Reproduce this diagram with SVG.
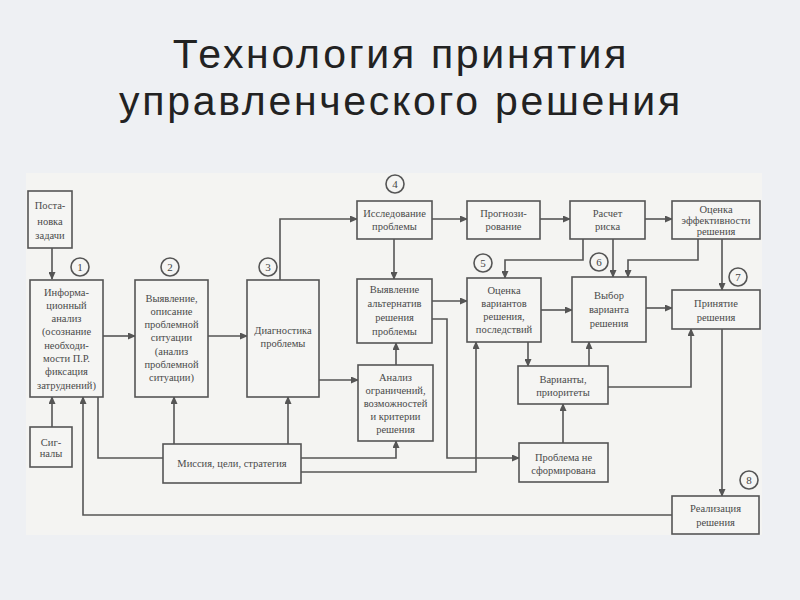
<svg xmlns="http://www.w3.org/2000/svg" width="800" height="600" viewBox="0 0 800 600">
<defs>
<marker id="ah" markerWidth="8" markerHeight="7" refX="7" refY="3.5" orient="auto" markerUnits="userSpaceOnUse">
<path d="M0,0 L8,3.5 L0,7 z" fill="#555"/>
</marker>
<style>
.title{font-family:"Liberation Sans","Open Sans",sans-serif;font-size:41px;letter-spacing:2.7px;fill:#222;text-anchor:middle}
.box{fill:#f5f5f3;stroke:#555;stroke-width:1.6}
.t{font-family:"Liberation Serif","DejaVu Serif",serif;font-size:10.5px;fill:#4a4a4a;text-anchor:middle}
.c{fill:#f5f5f3;stroke:#555;stroke-width:1.6}
.n{font-family:"Liberation Serif","DejaVu Serif",serif;font-size:11px;fill:#444;text-anchor:middle}
.ln{fill:none;stroke:#555;stroke-width:1.6}
.a{fill:none;stroke:#555;stroke-width:1.6;marker-end:url(#ah)}
</style>
</defs>
<rect width="800" height="600" fill="#eef0f3"/>
<text class="title" x="401" y="68">Технология принятия</text>
<text class="title" x="401" y="115">управленческого решения</text>
<rect x="26" y="173" width="736" height="362" fill="#f4f4f2"/>

<g id="connectors">
<path class="a" d="M52,248 V279"/>
<path class="a" d="M103,336 H135"/>
<path class="a" d="M208,336 H247"/>
<path class="a" d="M280,280 V219 H357"/>
<path class="a" d="M432,219 H467"/>
<path class="a" d="M540,219 H570"/>
<path class="a" d="M645,219 H672"/>
<path class="a" d="M394,239 V279"/>
<path class="a" d="M432,301 H467"/>
<path class="a" d="M583,239 V260 H505 V278"/>
<path class="a" d="M613,239 V277"/>
<path class="a" d="M698,239 V260 H628 V277"/>
<path class="a" d="M722,239 V290"/>
<path class="a" d="M541,310 H572"/>
<path class="a" d="M646,308 H672"/>
<path class="a" d="M528,342 V366"/>
<path class="a" d="M589,366 V342"/>
<path class="a" d="M608,387 H691 V329"/>
<path class="a" d="M563,443 V404"/>
<path class="a" d="M432,319 H447 V458 H519"/>
<path class="a" d="M301,472 H476 V342"/>
<path class="a" d="M319,380 H358"/>
<path class="a" d="M396,365 V343"/>
<path class="a" d="M301,458 H396 V441"/>
<path class="a" d="M174,444 V397"/>
<path class="a" d="M288,444 V397"/>
<path class="ln" d="M163,458 H98 V397"/>
<path class="a" d="M52,427 V397"/>
<path class="a" d="M672,515 H83 V397"/>
<path class="a" d="M722,329 V496"/>
</g>

<g id="n-postanovka"><rect class="box" x="28" y="191" width="44" height="57"/>
<text class="t" x="50" y="209">Поста-</text><text class="t" x="50" y="225">новка</text><text class="t" x="50" y="239">задачи</text></g>

<g id="c1"><circle class="c" cx="80" cy="267" r="9"/><text class="n" x="80" y="271">1</text></g>
<g id="n-info"><rect class="box" x="30" y="280" width="73" height="117"/>
<text class="t" x="66.5" y="295.5">Информа-</text><text class="t" x="66.5" y="308.8">ционный</text><text class="t" x="66.5" y="322.1">анализ</text><text class="t" x="66.5" y="335.4">(осознание</text><text class="t" x="66.5" y="348.7">необходи-</text><text class="t" x="66.5" y="362">мости П.Р.</text><text class="t" x="66.5" y="375.3">фиксация</text><text class="t" x="66.5" y="388.6">затруднений)</text></g>

<g id="c2"><circle class="c" cx="170" cy="267" r="9"/><text class="n" x="170" y="271">2</text></g>
<g id="n-vyyavlenie"><rect class="box" x="135" y="280" width="73" height="117"/>
<text class="t" x="171.5" y="301.5">Выявление,</text><text class="t" x="171.5" y="314.8">описание</text><text class="t" x="171.5" y="328.1">проблемной</text><text class="t" x="171.5" y="341.4">ситуации</text><text class="t" x="171.5" y="354.7">(анализ</text><text class="t" x="171.5" y="368">проблемной</text><text class="t" x="171.5" y="381.3">ситуации)</text></g>

<g id="c3"><circle class="c" cx="268" cy="267" r="9"/><text class="n" x="268" y="271">3</text></g>
<g id="n-diagnostika"><rect class="box" x="247" y="280" width="72" height="117"/>
<text class="t" x="283" y="333.5">Диагностика</text><text class="t" x="283" y="346.5">проблемы</text></g>

<g id="c4"><circle class="c" cx="395" cy="184" r="9"/><text class="n" x="395" y="188">4</text></g>
<g id="n-issled"><rect class="box" x="357" y="201" width="75" height="38"/>
<text class="t" x="394.5" y="216.5">Исследование</text><text class="t" x="394.5" y="230">проблемы</text></g>

<g id="n-prognoz"><rect class="box" x="467" y="201" width="73" height="38"/>
<text class="t" x="503.5" y="216.5">Прогнози-</text><text class="t" x="503.5" y="230">рование</text></g>

<g id="n-raschet"><rect class="box" x="570" y="201" width="75" height="38"/>
<text class="t" x="607.5" y="216.5">Расчет</text><text class="t" x="607.5" y="230">риска</text></g>

<g id="n-ocenka-eff"><rect class="box" x="672" y="201" width="88" height="38"/>
<text class="t" x="716" y="213">Оценка</text><text class="t" x="716" y="224">эффективности</text><text class="t" x="716" y="235">решения</text></g>

<g id="n-alternativ"><rect class="box" x="357" y="279" width="75" height="64"/>
<text class="t" x="394.5" y="293">Выявление</text><text class="t" x="394.5" y="307">альтернатив</text><text class="t" x="394.5" y="321">решения</text><text class="t" x="394.5" y="335">проблемы</text></g>

<g id="c5"><circle class="c" cx="483" cy="263" r="9"/><text class="n" x="483" y="267">5</text></g>
<g id="n-ocenka-var"><rect class="box" x="467" y="278" width="74" height="64"/>
<text class="t" x="504" y="293.5">Оценка</text><text class="t" x="504" y="306.5">вариантов</text><text class="t" x="504" y="319.5">решения,</text><text class="t" x="504" y="332.5">последствий</text></g>

<g id="c6"><circle class="c" cx="599" cy="262" r="9"/><text class="n" x="599" y="266">6</text></g>
<g id="n-vybor"><rect class="box" x="572" y="277" width="74" height="65"/>
<text class="t" x="609" y="298.5">Выбор</text><text class="t" x="609" y="312.5">варианта</text><text class="t" x="609" y="326.5">решения</text></g>

<g id="c7"><circle class="c" cx="738" cy="277" r="9"/><text class="n" x="738" y="281">7</text></g>
<g id="n-prinyatie"><rect class="box" x="672" y="290" width="88" height="39"/>
<text class="t" x="716" y="306.5">Принятие</text><text class="t" x="716" y="320.5">решения</text></g>

<g id="n-analiz"><rect class="box" x="358" y="365" width="75" height="76"/>
<text class="t" x="395.5" y="380.5">Анализ</text><text class="t" x="395.5" y="393.5">ограничений,</text><text class="t" x="395.5" y="406.5">возможностей</text><text class="t" x="395.5" y="419.5">и критерии</text><text class="t" x="395.5" y="432.5">решения</text></g>

<g id="n-varianty"><rect class="box" x="518" y="366" width="90" height="38"/>
<text class="t" x="563" y="382.5">Варианты,</text><text class="t" x="563" y="395.5">приоритеты</text></g>

<g id="n-missiya"><rect class="box" x="163" y="444" width="138" height="39"/>
<text class="t" x="232" y="466.5">Миссия, цели, стратегия</text></g>

<g id="n-signaly"><rect class="box" x="30" y="427" width="42" height="40"/>
<text class="t" x="51" y="445.5">Сиг-</text><text class="t" x="51" y="457">налы</text></g>

<g id="n-problema"><rect class="box" x="519" y="443" width="89" height="39"/>
<text class="t" x="563.5" y="460.5">Проблема не</text><text class="t" x="563.5" y="473.5">сформирована</text></g>

<g id="c8"><circle class="c" cx="749" cy="480" r="9"/><text class="n" x="749" y="484">8</text></g>
<g id="n-realizaciya"><rect class="box" x="672" y="496" width="87" height="38"/>
<text class="t" x="715.5" y="511.5">Реализация</text><text class="t" x="715.5" y="526">решения</text></g>
</svg>
